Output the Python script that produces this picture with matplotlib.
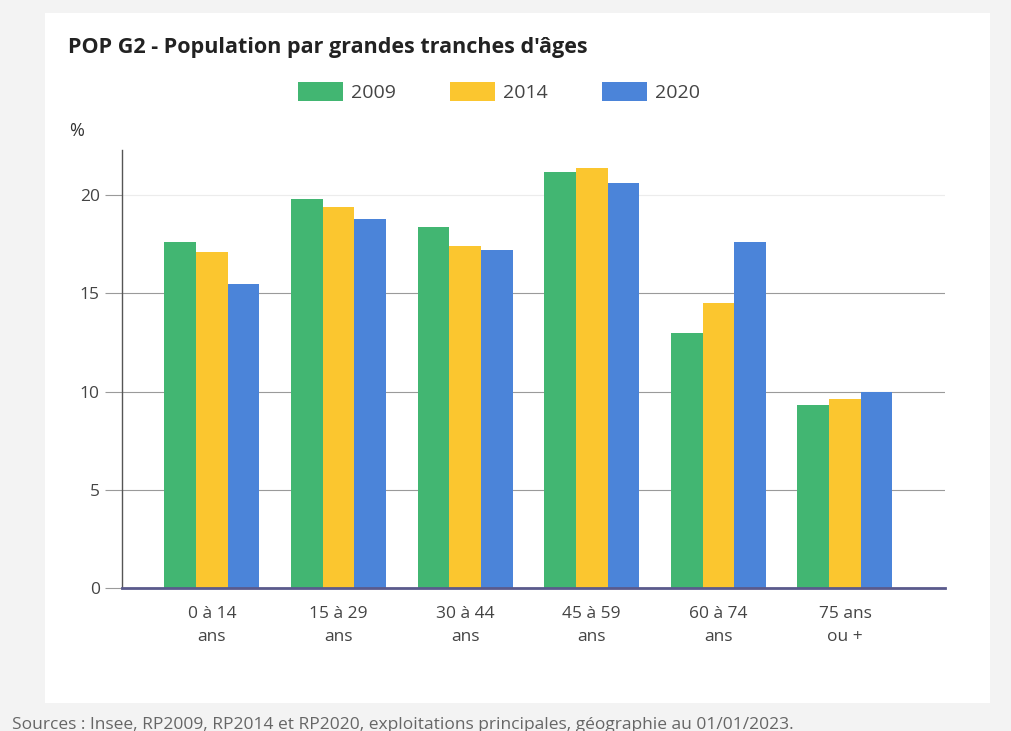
import numpy as np
import matplotlib.pyplot as plt
from matplotlib import patches

plt.rcParams['font.family'] = ['Open Sans', 'DejaVu Sans']

categories = ['0 à 14\nans', '15 à 29\nans', '30 à 44\nans', '45 à 59\nans', '60 à 74\nans', '75 ans\nou +']
years = ['2009', '2014', '2020']
v2009 = [17.6, 19.8, 18.4, 21.2, 13.0, 9.3]
v2014 = [17.1, 19.4, 17.4, 21.4, 14.5, 9.6]
v2020 = [15.5, 18.8, 17.2, 20.6, 17.6, 10.0]
yticks = [0, 5, 10, 15, 20]

colors = ['#42b672', '#fbc62f', '#4b84d9']

fig = plt.figure(figsize=(10.11, 7.31), dpi=100)
fig.patch.set_facecolor('#f3f3f3')

# white card behind everything
card = patches.Rectangle((45/1011, 1-703/731), 945/1011, 690/731, transform=fig.transFigure,
                         facecolor='white', edgecolor='none', zorder=-10)
fig.patches.append(card)

ax = fig.add_axes([122/1011, 1-588/731, 823/1011, 438/731])
ax.set_facecolor('white')

x = np.arange(len(categories))
w = 0.25
for i, (vals, c, lab) in enumerate(zip([v2009, v2014, v2020], colors, years)):
    ax.bar(x + (i-1)*w, vals, width=w, color=c, label=lab, zorder=3)

ax.set_xlim(-0.71, 5.79)
ax.set_ylim(0, 22.3)
ax.set_yticks(yticks)
ax.set_xticks(x)
ax.set_xticklabels(categories, fontsize=12.5, color='#444444', linespacing=1.55)
ax.tick_params(axis='x', length=0, pad=13)
ax.tick_params(axis='y', length=12, color='#9a9a9a', labelsize=12.5, labelcolor='#444444', pad=4)
ax.grid(axis='y', color='#9a9a9a', linewidth=0.8, zorder=1)
gl = ax.yaxis.get_gridlines()
gl[-1].set_color('#ececec')
gl[0].set_visible(False)

for s in ['top', 'right']:
    ax.spines[s].set_visible(False)
ax.spines['left'].set_color('#555555')
ax.spines['left'].set_linewidth(1)
ax.spines['bottom'].set_color('#5a5a8c')
ax.spines['bottom'].set_linewidth(2)
ax.spines['bottom'].set_zorder(4)

fig.text(68/1011, 1-48/731, "POP G2 - Population par grandes tranches d'âges",
         fontsize=15.5, fontweight='bold', color='#222222', va='center', ha='left')
fig.text(69/1011, 1-131/731, '%', fontsize=13, color='#333333', va='center', ha='left')

handles, labels = ax.get_legend_handles_labels()
leg = fig.legend(handles, labels, loc='center', bbox_to_anchor=(499/1011, 1-92/731), ncol=3,
                 frameon=False, handlelength=2.3, handleheight=1.15, handletextpad=0.4,
                 columnspacing=2.8, fontsize=14)
for t in leg.get_texts():
    t.set_color('#444444')

fig.text(12/1011, 1-725/731,
         'Sources : Insee, RP2009, RP2014 et RP2020, exploitations principales, géographie au 01/01/2023.',
         fontsize=12.5, color='#666666', va='center', ha='left')

fig.savefig('out.png', dpi=100, facecolor=fig.get_facecolor())
